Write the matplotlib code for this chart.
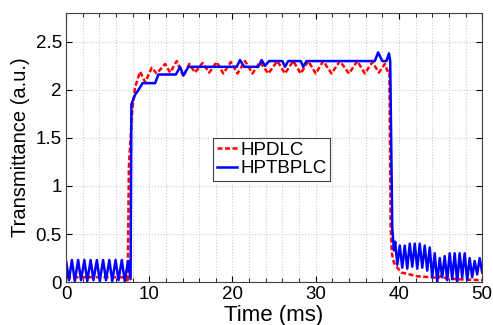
import matplotlib
matplotlib.use("Agg")
from matplotlib import pyplot
from matplotlib.ticker import MultipleLocator

pyplot.rcParams["font.family"] = ["Liberation Sans", "DejaVu Sans"]

# HPDLC (red dashed)
t_hpdlc = [0.0, 7.3, 7.4, 7.55, 7.95, 8.3, 8.9, 9.5, 10.3, 10.9, 11.9, 12.5, 13.3, 14.1,
           14.8, 15.5, 16.4, 17.2, 18.1, 18.9, 19.8, 20.6, 21.5, 22.4, 23.3, 24.3, 25.4,
           26.3, 27.3, 28.2, 29.1, 30.0, 30.9, 31.9, 32.9, 34.0, 35.0, 35.9, 36.8, 37.6,
           38.3, 38.6, 38.85, 39.0, 39.15, 39.4, 39.8, 40.3, 41.3, 42.2, 44.0, 44.7, 45.1,
           45.6, 47.0, 50.0]
v_hpdlc = [0.05, 0.05, 0.0, 1.2, 1.79, 2.03, 2.19, 2.08, 2.23, 2.17, 2.27, 2.18, 2.3, 2.14,
           2.27, 2.18, 2.28, 2.18, 2.29, 2.17, 2.29, 2.17, 2.3, 2.17, 2.29, 2.17, 2.3,
           2.17, 2.3, 2.17, 2.3, 2.17, 2.3, 2.17, 2.3, 2.17, 2.3, 2.17, 2.29, 2.18,
           2.27, 2.2, 2.2, 0.6, 0.3, 0.2, 0.15, 0.1, 0.08, 0.06, 0.05, 0.04, 0.07,
           0.04, 0.03, 0.02]

# HPTBPLC (blue solid)
t_hptb = [0.0, 0.35, 0.7, 1.05, 1.45, 1.8, 2.2, 2.55, 2.95, 3.3, 3.7, 4.05, 4.45, 4.8,
          5.2, 5.55, 5.95, 6.3, 6.7, 7.05, 7.45, 7.75, 7.85, 8.3, 8.7, 9.2, 10.7, 11.1,
          13.2, 13.7, 14.1, 14.7, 20.5, 20.9, 21.4, 23.1, 23.5, 23.9, 24.4, 26.0, 26.3,
          26.7, 28.2, 28.5, 28.9, 37.1, 37.5, 38.0, 38.5, 38.8, 38.95, 39.2, 39.4, 39.55,
          39.8, 40.1, 40.4, 40.7, 41.0, 41.3, 41.6, 41.9, 42.2, 42.5, 42.8, 43.1, 43.4,
          43.7, 44.0, 44.3, 44.6, 44.9, 45.2, 45.5, 45.8, 46.1, 46.4, 46.7, 47.0, 47.3,
          47.6, 47.9, 48.2, 48.5, 48.8, 49.1, 49.4, 49.7, 50.0]
v_hptb = [0.22, 0.02, 0.23, 0.01, 0.23, 0.02, 0.23, 0.01, 0.23, 0.02, 0.23, 0.01, 0.23, 0.02,
          0.23, 0.01, 0.23, 0.02, 0.23, 0.01, 0.22, 0.03, 1.85, 1.95, 2.0, 2.07, 2.07, 2.16,
          2.16, 2.24, 2.15, 2.24, 2.24, 2.31, 2.24, 2.24, 2.31, 2.25, 2.3, 2.3, 2.24,
          2.3, 2.3, 2.24, 2.3, 2.3, 2.39, 2.3, 2.3, 2.38, 2.3, 0.56, 0.33, 0.42,
          0.18, 0.38, 0.15, 0.38, 0.14, 0.4, 0.16, 0.4, 0.14, 0.4, 0.15, 0.38, 0.12,
          0.36, 0.05, 0.3, 0.0, 0.25, 0.05, 0.27, 0.02, 0.3, 0.03, 0.3, 0.0, 0.3,
          0.05, 0.3, 0.02, 0.25, 0.05, 0.22, 0.08, 0.25, 0.1]

fig = pyplot.figure(figsize=(4.93, 3.25), dpi=100)
ax = fig.add_axes([0.134, 0.132, 0.844, 0.828])

ax.plot(t_hpdlc, v_hpdlc, color="red", linestyle=(0, (2, 1)), linewidth=1.8, label="HPDLC")
ax.plot(t_hptb, v_hptb, color="blue", linestyle="-", linewidth=1.8, label="HPTBPLC")

ax.set_xlim(0, 50)
ax.set_ylim(0, 2.8)
ax.xaxis.set_major_locator(MultipleLocator(10))
ax.xaxis.set_minor_locator(MultipleLocator(2))
ax.set_yticks([0, 0.5, 1, 1.5, 2, 2.5])
ax.set_yticklabels(["0", "0.5", "1", "1.5", "2", "2.5"])
ax.tick_params(which="both", direction="in", top=True, right=True, labelsize=13.5, pad=3)
ax.tick_params(which="major", length=4)
ax.tick_params(which="minor", length=3)
ax.grid(True, which="major", axis="y", color="#cccccc", linestyle=":", linewidth=0.8)
ax.grid(True, which="both", axis="x", color="#cccccc", linestyle=":", linewidth=0.8)
for s in ax.spines.values():
    s.set_color("#404040")
    s.set_linewidth(0.8)

ax.set_xlabel("Time (ms)", fontsize=16, labelpad=1)
ax.set_ylabel("Transmittance (a.u.)", fontsize=14.5, labelpad=4)

leg = ax.legend(loc="upper left", bbox_to_anchor=(0.432, 0.575), bbox_transform=fig.transFigure,
                fontsize=13.5, fancybox=False, framealpha=1, edgecolor="#404040",
                handlelength=1.1, handletextpad=0.15, borderpad=0.2, labelspacing=0.05,
                borderaxespad=0)
leg.get_frame().set_linewidth(0.8)

pyplot.savefig("out.png", dpi=100)
